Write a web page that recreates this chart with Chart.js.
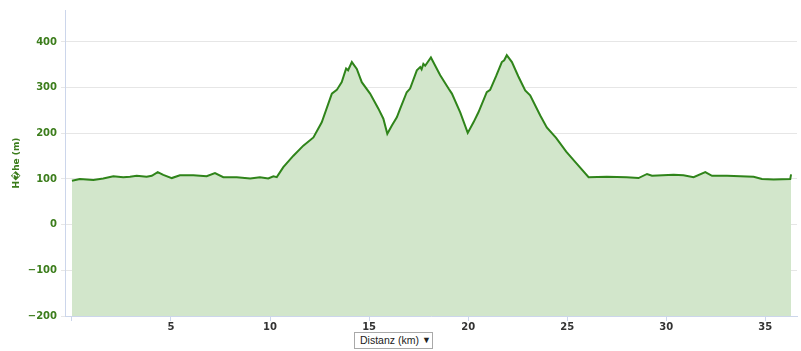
<!DOCTYPE html>
<html>
<head>
<meta charset="utf-8">
<script src="https://cdn.jsdelivr.net/npm/chart.js@4"></script>
<style>
  html,body{margin:0;padding:0;background:#fff;}
  #wrap{position:relative;width:801px;height:351px;}
  #dd{position:absolute;left:354px;top:332px;width:77px;height:15px;border:1px solid #a9a9a9;
      font:10.5px "Liberation Sans",Arial,sans-serif;color:#222;line-height:15px;background:#fff;white-space:nowrap;}
  #dd span.t{position:absolute;left:5px;top:0;}
  #dd span.a{position:absolute;left:67px;top:0;font-size:9px;}
</style>
</head>
<body>
<div id="wrap">
<canvas id="c" width="801" height="351"></canvas>
<div id="dd"><span class="t">Distanz (km)</span><span class="a">▼</span></div>
</div>
<script>
const distKm = [0.0,0.40,1.08,1.58,2.09,2.59,2.93,3.27,3.77,4.03,4.33,4.61,5.04,5.45,6.13,6.80,7.22,7.64,8.32,9.0,9.49,9.91,10.17,10.34,
  10.67,11.18,11.68,12.19,12.61,13.12,13.37,13.62,13.84,13.94,14.13,14.38,14.63,15.05,15.47,15.72,15.92,
  16.15,16.40,16.57,16.90,17.07,17.41,17.58,17.65,17.74,17.83,18.12,18.59,19.01,19.18,19.60,19.98,
  20.27,20.52,20.94,21.11,21.41,21.70,21.82,21.95,22.21,22.53,22.88,23.13,23.64,23.97,24.44,24.95,25.49,26.08,
  27.0,28.0,28.6,29.03,29.28,30.37,30.87,31.38,31.97,32.31,33.07,34.41,34.83,35.42,36.26,36.30];
const elevM = [96,100,98,101,106,104,105,107,105,107,115,109,102,108,108,106,113,104,104,101,104,101,106,104,
  126,151,173,191,224,287,295,312,342,338,356,341,312,287,254,232,199,
  217,235,254,290,298,338,345,340,352,348,366,327,298,287,246,201,
  224,246,290,295,325,356,360,371,356,325,294,283,239,213,190,160,133,104,
  105,104,102,111,107,109,108,104,115,107,107,105,100,99,100,110];
const xTickValues = [0,5,10,15,20,25,30,35];
const yTickValues = [-200,-100,0,100,200,300,400];
const yTitle = 'H\uFFFDhe (m)';

const pts = distKm.map((d,i)=>({x:d,y:elevM[i]}));
const axisCol = '#ccd6eb';

new Chart(document.getElementById('c'), {
  type:'line',
  data:{datasets:[{data:pts,borderColor:'#2f841a',borderWidth:2,backgroundColor:'#d2e6cb',
    fill:'start',pointRadius:0,tension:0}]},
  options:{
    responsive:false,animation:false,
    layout:{padding:{top:10,right:4,left:0,bottom:0}},
    plugins:{legend:{display:false},tooltip:{enabled:false}},
    scales:{
      x:{type:'linear',min:-0.35,max:36.6,
        afterBuildTicks:s=>{s.ticks=xTickValues.map(v=>({value:v}));},
        afterFit:s=>{s.height=35;},
        border:{color:axisCol,width:1},
        grid:{drawOnChartArea:false,drawTicks:true,tickLength:5,color:axisCol},
        ticks:{padding:0,maxRotation:0,autoSkip:false,color:'#333333',
          font:{family:'DejaVu Sans',weight:'bold',size:10},
          callback:v=>v===0?'':String(v)}
      },
      y:{min:-200,max:470,
        afterBuildTicks:s=>{s.ticks=yTickValues.map(v=>({value:v}));},
        afterFit:s=>{s.width=65;},
        border:{color:axisCol,width:1},
        grid:{color:'#e6e6e6',drawTicks:true,tickLength:4},
        ticks:{padding:4,color:'#3c7d1c',font:{family:'DejaVu Sans',weight:'bold',size:10},
          callback:v=>v<0?'\u2212'+Math.abs(v):String(v)},
        title:{display:true,text:yTitle,color:'#3c7d1c',padding:{top:11,bottom:0},
          font:{family:'DejaVu Sans',weight:'bold',size:9}}
      }
    }
  }
});
</script>
</body>
</html>
